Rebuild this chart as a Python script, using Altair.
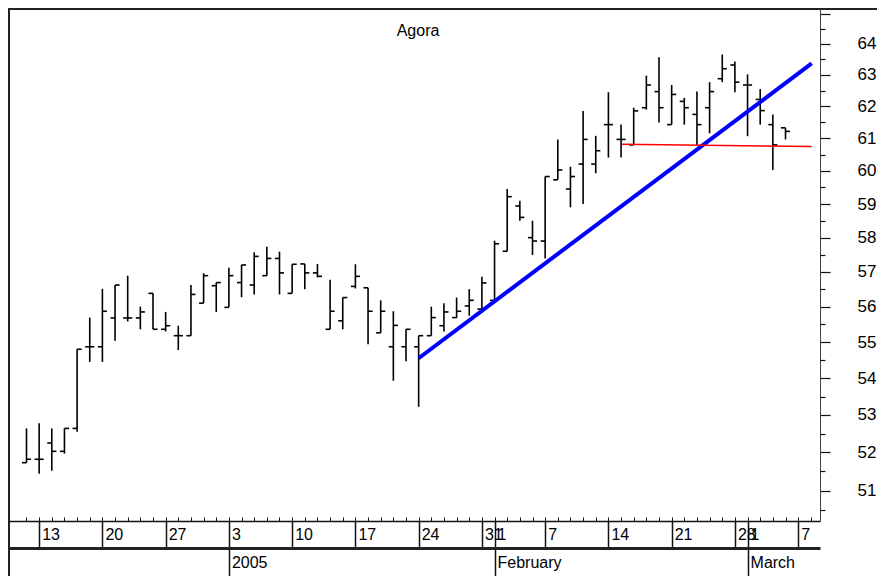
import json
import altair as alt
import pandas as pd

# ---- data (trading-day index, OHLC) ----
idx = list(range(61))
opens = [51.73, 51.82, 52.25, 52.03, 52.64, 54.87, 54.87, 55.68, 55.68, 55.68,
         56.38, 55.36, 55.18, 55.18, 56.10, 56.60, 55.98, 56.69, 56.62, 56.89,
         57.39, 56.38, 57.23, 56.97, 55.36, 55.60, 56.58, 56.54, 55.26, 54.87,
         54.87, 54.87, 55.18, 55.46, 55.69, 56.02, 55.93, 56.18, 57.60, 58.94,
         58.00, 57.90, 59.73, 59.45, 60.21, 60.21, 61.43, 60.97, 60.80, 61.96,
         62.47, 61.43, 62.16, 61.75, 61.96, 62.88, 63.32, 62.68, 62.22, 61.43,
         61.33]
highs = [52.64, 52.78, 52.64, 52.64, 54.80, 55.69, 56.51, 56.62, 56.89, 56.00,
         56.38, 55.85, 55.46, 56.62, 56.96, 56.69, 57.12, 57.20, 57.57, 57.73,
         57.59, 57.22, 57.23, 57.23, 56.77, 56.26, 57.22, 56.54, 56.18, 55.87,
         55.36, 55.18, 56.00, 56.10, 56.26, 56.50, 56.86, 57.91, 59.45, 59.10,
         58.50, 59.83, 60.97, 60.13, 61.86, 61.08, 62.45, 61.43, 61.96, 62.98,
         63.57, 62.68, 62.27, 62.47, 62.77, 63.66, 63.43, 63.02, 62.55, 61.75,
         61.33]
lows = [51.73, 51.44, 51.52, 51.97, 52.55, 54.45, 54.45, 55.04, 55.58, 55.36,
        55.36, 55.30, 54.78, 55.18, 56.10, 55.85, 55.98, 56.27, 56.35, 56.89,
        56.35, 56.38, 56.50, 56.84, 55.36, 55.36, 56.52, 54.94, 55.26, 53.93,
        54.47, 53.22, 55.18, 55.30, 55.68, 55.74, 55.93, 56.18, 57.60, 58.50,
        57.49, 57.39, 59.73, 58.90, 59.00, 59.93, 60.41, 60.41, 60.80, 61.90,
        61.50, 61.43, 61.43, 60.80, 61.16, 62.77, 62.45, 61.07, 61.43, 60.03,
        60.97]
closes = [51.82, 51.82, 52.03, 52.64, 54.80, 54.87, 55.87, 56.62, 55.68, 55.85,
          55.36, 55.46, 55.18, 56.35, 56.89, 56.69, 56.89, 57.20, 57.45, 57.39,
          56.97, 57.22, 56.97, 56.87, 55.87, 56.26, 56.87, 55.87, 55.87, 55.47,
          55.36, 55.18, 55.69, 55.85, 55.87, 56.18, 56.68, 57.82, 59.22, 58.60,
          57.90, 59.83, 60.03, 59.83, 60.97, 60.62, 61.43, 60.97, 61.86, 62.68,
          61.96, 62.38, 61.96, 61.43, 62.47, 63.20, 62.77, 62.68, 61.87, 60.80,
          61.22]

# axis ticks / labels
day_ticks = [1, 6, 11, 16, 21, 26, 31, 36, 37, 41, 46, 51, 56, 57, 61]
day_labels = ["13", "20", "27", "3", "10", "17", "24", "31", "1", "7", "14", "21", "28", "1", "7"]
month_ticks = [16, 37, 57]
month_labels = ["2005", "February", "March"]
minor_day_ticks = list(range(0, 63))
y_major = list(range(51, 66))
y_minor = [v + 0.5 for v in range(50, 65)]

# trend lines
trend_i = [31, 62.07]
trend_v = [54.55, 63.37]
support_i = [47.08, 62.07]
support_v = [60.82, 60.75]

title_text = ["Agora"]

FONT = "Liberation Sans, Arial, sans-serif"
X_DOMAIN = [-1.462, 62.727]
Y_DOMAIN = [50.219, 65.182]
W, H = 812, 513
TICK = 0.36

df = pd.DataFrame({"i": idx, "open": opens, "high": highs, "low": lows, "close": closes})
trend = pd.DataFrame({"i": trend_i, "v": trend_v})
support = pd.DataFrame({"i": support_i, "v": support_v})


def xs():
    return alt.Scale(domain=X_DOMAIN, nice=False, zero=False)


def ys():
    return alt.Scale(type="log", domain=Y_DOMAIN, nice=False)


def lab_expr(ticks, labels):
    return f"{json.dumps(labels)}[indexof({json.dumps(ticks)}, datum.value)]"


day_axis = alt.Axis(
    orient="bottom", values=day_ticks, title=None, grid=False,
    tickSize=27, tickWidth=1.5, tickColor="#111",
    domainColor="#111", domainWidth=1.5,
    labelAlign="left", labelBaseline="middle", labelPadding=-13.5, labelOffset=2.5,
    labelFont=FONT, labelFontSize=16, labelColor="#000",
    labelOverlap=False, labelFlush=False, labelBound=False,
    labelExpr=lab_expr(day_ticks, day_labels),
)
month_axis = alt.Axis(
    orient="bottom", offset=27, values=month_ticks, title=None, grid=False,
    tickSize=28, tickWidth=1.5, tickColor="#111",
    domainColor="#222", domainWidth=3,
    labelAlign="left", labelBaseline="middle", labelPadding=-14, labelOffset=2.5,
    labelFont=FONT, labelFontSize=16, labelColor="#000",
    labelOverlap=False, labelFlush=False, labelBound=False,
    labelExpr=lab_expr(month_ticks, month_labels),
)
minor_x_axis = alt.Axis(
    orient="top", offset=-H, values=minor_day_ticks, title=None, grid=False,
    tickSize=4, tickWidth=1, tickColor="#111", labels=False, domain=False,
)
y_axis = alt.Axis(
    orient="right", values=y_major, title=None, grid=False,
    tickSize=10, tickWidth=1.2, tickColor="#111",
    domainColor="#444", domainWidth=1,
    labelAlign="left", labelBaseline="middle", labelPadding=27,
    labelFont=FONT, labelFontSize=17, labelColor="#000",
    labelOverlap=False, labelFlush=False, labelBound=False,
    labelExpr="datum.value > 64.5 ? '' : format(datum.value, 'd')",
)
y_minor_axis = alt.Axis(
    orient="right", values=y_minor, title=None, grid=False,
    tickSize=5, tickWidth=1.2, tickColor="#111", labels=False, domain=False,
)

base = alt.Chart(df)

hl = base.mark_rule(color="#000", strokeWidth=1.6).encode(
    x=alt.X("i:Q", scale=xs(), axis=day_axis),
    y=alt.Y("low:Q", scale=ys(), axis=y_axis),
    y2="high:Q",
)
open_tick = base.transform_calculate(xo=f"datum.i - {TICK}").mark_rule(
    color="#000", strokeWidth=1.6).encode(
    x=alt.X("xo:Q", scale=xs(), axis=month_axis),
    x2="i:Q",
    y=alt.Y("open:Q", scale=ys(), axis=y_minor_axis),
)
close_tick = base.transform_calculate(xc=f"datum.i + {TICK}").mark_rule(
    color="#000", strokeWidth=1.6).encode(
    x=alt.X("i:Q", scale=xs(), axis=minor_x_axis),
    x2="xc:Q",
    y=alt.Y("close:Q", scale=ys(), axis=None),
)
blue = alt.Chart(trend).mark_line(color="#0000ff", strokeWidth=4).encode(
    x=alt.X("i:Q", scale=xs(), axis=None),
    y=alt.Y("v:Q", scale=ys(), axis=None),
)
red = alt.Chart(support).mark_line(color="#ff0000", strokeWidth=1.5).encode(
    x=alt.X("i:Q", scale=xs(), axis=None),
    y=alt.Y("v:Q", scale=ys(), axis=None),
)
title = alt.Chart(pd.DataFrame({"t": title_text})).mark_text(
    font=FONT, fontSize=16, align="center", baseline="alphabetic", color="#000"
).encode(x=alt.value(410), y=alt.value(28), text="t:N")

frame_top = alt.Chart(pd.DataFrame({"a": [0]})).mark_rule(color="#222", strokeWidth=2).encode(
    x=alt.value(0), x2=alt.value(869), y=alt.value(1))
frame_left = alt.Chart(pd.DataFrame({"a": [0]})).mark_rule(color="#222", strokeWidth=2).encode(
    x=alt.value(1), y=alt.value(0), y2=alt.value(568))

chart = alt.layer(
    hl, open_tick, close_tick, blue, red, title, frame_top, frame_left
).resolve_axis(x="independent", y="independent").properties(
    width=W, height=H,
    autosize=alt.AutoSizeParams(type="none"),
    padding={"left": 0, "top": 0, "right": 57, "bottom": 55},
    background="white",
).configure_view(strokeWidth=0)

chart.save("out.html", embed_options={"renderer": "svg", "actions": False})
